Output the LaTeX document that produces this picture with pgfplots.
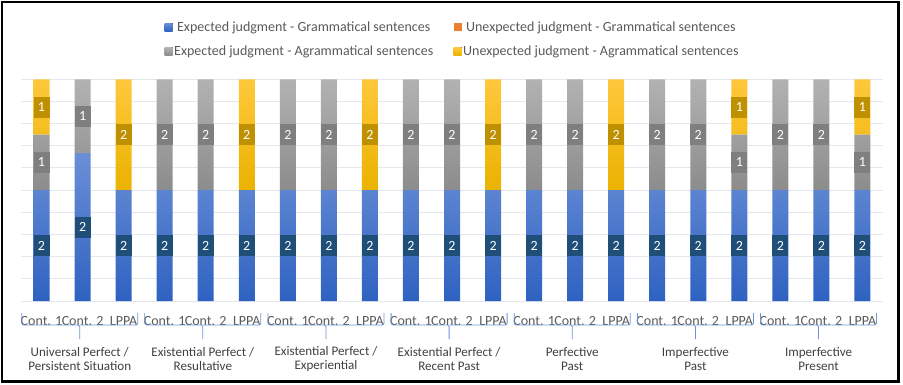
\documentclass[border=0pt]{standalone}
\usepackage{pgfplots}
\pgfplotsset{compat=1.18}
\usepackage{pgfplotstable}
\usepackage{fontspec}
\setmainfont{Carlito}

\definecolor{bluetop}{HTML}{6A8FD6}
\definecolor{bluebot}{HTML}{2F62C1}
\definecolor{graytop}{HTML}{B2B2B2}
\definecolor{graybot}{HTML}{8C8C8C}
\definecolor{yeltop}{HTML}{FFC83C}
\definecolor{yelbot}{HTML}{EAB200}
\definecolor{orng}{HTML}{ED7D31}
\definecolor{bluelab}{HTML}{1F4E79}
\definecolor{graylab}{HTML}{7F7F7F}
\definecolor{yellab}{HTML}{BF9000}
\definecolor{gridc}{HTML}{E4E7ED}
\definecolor{txt}{HTML}{595959}
\definecolor{grp}{HTML}{404040}
\definecolor{brk}{HTML}{6B93D6}

\newcommand{\labbox}[2]{{\setlength{\fboxsep}{0pt}\colorbox{#1}{\parbox[c][21pt][c]{16pt}{\centering\color{white}#2}}}}
\newcommand{\fs}{\fontsize{14}{15.5}\selectfont}
\newcommand{\fg}{\fontsize{13.1}{14.6}\selectfont}

% counts per bar: bn = expected/grammatical, on = unexpected/grammatical,
% gn = expected/agrammatical, yn = unexpected/agrammatical
\pgfplotstableread{
i bn on gn yn
0 2 0 1 1
1 2 0 1 0
2 2 0 0 2
3 2 0 2 0
4 2 0 2 0
5 2 0 0 2
6 2 0 2 0
7 2 0 2 0
8 2 0 0 2
9 2 0 2 0
10 2 0 2 0
11 2 0 0 2
12 2 0 2 0
13 2 0 2 0
14 2 0 0 2
15 2 0 2 0
16 2 0 2 0
17 2 0 1 1
18 2 0 2 0
19 2 0 2 0
20 2 0 1 1
}\data

\pgfplotsset{
  lab/.style={
    point meta=explicit,
    nodes near coords={\pgfmathfloatifflags{\pgfplotspointmeta}{0}{}{\labbox{#1}{\pgfmathprintnumber[assume math mode=true]{\pgfplotspointmeta}}}},
    every node near coord/.style={inner sep=0pt, anchor=center, font=\fs},
  },
}

\begin{document}
\begin{tikzpicture}
\useasboundingbox (0,0) rectangle (903pt,384pt);
\draw[line width=2.5pt] (2pt,2.5pt) rectangle (898.5pt,382pt);
\begin{axis}[
  at={(21pt,83pt)}, anchor=south west,
  scale only axis, width=862pt, height=221.7pt,
  ybar stacked, bar width=16pt,
  xmin=-0.5, xmax=20.5, ymin=0, ymax=100,
  xtick={0,...,20},
  xticklabels={Cont. 1,Cont. 2,LPPA,Cont. 1,Cont. 2,LPPA,Cont. 1,Cont. 2,LPPA,Cont. 1,Cont. 2,LPPA,Cont. 1,Cont. 2,LPPA,Cont. 1,Cont. 2,LPPA,Cont. 1,Cont. 2,LPPA},
  xticklabel style={font=\fs, text=txt, anchor=base, yshift=-24.5pt},
  ytick={0,10,...,100}, yticklabels={},
  ymajorgrids, grid style={gridc, line width=1pt},
  axis line style={draw=none},
  major tick length=0pt,
  clip=false,
  legend columns=2,
  legend style={draw=none, fill=none, at={(0.1665,1.268)}, anchor=north west,
    font=\fs, text=txt, inner sep=0pt, row sep=10pt,
    nodes={inner sep=1.5pt},
    /tikz/every even column/.append style={column sep=19pt}},
  legend image code/.code={\fill[#1] (0pt,-4pt) rectangle (8pt,4pt);},
]
\addplot[draw=none, top color=bluetop, bottom color=bluebot, lab=bluelab]
  table[x=i, y expr={100*\thisrow{bn}/(\thisrow{bn}+\thisrow{on}+\thisrow{gn}+\thisrow{yn})}, meta=bn] {\data};
\addlegendentry{Expected judgment - Grammatical sentences}
\addplot[draw=none, fill=orng]
  table[x=i, y expr={100*\thisrow{on}/(\thisrow{bn}+\thisrow{on}+\thisrow{gn}+\thisrow{yn})}] {\data};
\addlegendentry{Unexpected judgment - Grammatical sentences}
\addplot[draw=none, top color=graytop, bottom color=graybot, lab=graylab]
  table[x=i, y expr={100*\thisrow{gn}/(\thisrow{bn}+\thisrow{on}+\thisrow{gn}+\thisrow{yn})}, meta=gn] {\data};
\addlegendentry{Expected judgment - Agrammatical sentences}
\addplot[draw=none, top color=yeltop, bottom color=yelbot, lab=yellab]
  table[x=i, y expr={100*\thisrow{yn}/(\thisrow{bn}+\thisrow{on}+\thisrow{gn}+\thisrow{yn})}, meta=yn] {\data};
\addlegendentry{Unexpected judgment - Agrammatical sentences}

\pgfplotsinvokeforeach{0,...,6}{
  \draw[brk, line width=0.8pt, rounded corners=1.5pt]
    ([yshift=-12pt]axis cs:3*#1-0.483,0) -- ([yshift=-24pt]axis cs:3*#1-0.483,0)
    -- ([yshift=-24pt]axis cs:3*#1+0.93,0) -- ([yshift=-38pt]axis cs:3*#1+0.93,0);
  \draw[brk, line width=0.8pt, rounded corners=1.5pt]
    ([yshift=-12pt]axis cs:3*#1+2.343,0) -- ([yshift=-24pt]axis cs:3*#1+2.343,0)
    -- ([yshift=-24pt]axis cs:3*#1+0.93,0);
}
\def\grouplab#1#2{\node[align=center, font=\fg, text=grp, anchor=center] at ([yshift=-58pt]axis cs:3*#1+0.93,0) {#2};}
\grouplab{0}{Universal Perfect /\\Persistent Situation}
\grouplab{1}{Existential Perfect /\\Resultative}
\grouplab{2}{Existential Perfect /\\Experiential}
\grouplab{3}{Existential Perfect /\\Recent Past}
\grouplab{4}{Perfective\\Past}
\grouplab{5}{Imperfective\\Past}
\grouplab{6}{Imperfective\\Present}
\end{axis}
\end{tikzpicture}
\end{document}
